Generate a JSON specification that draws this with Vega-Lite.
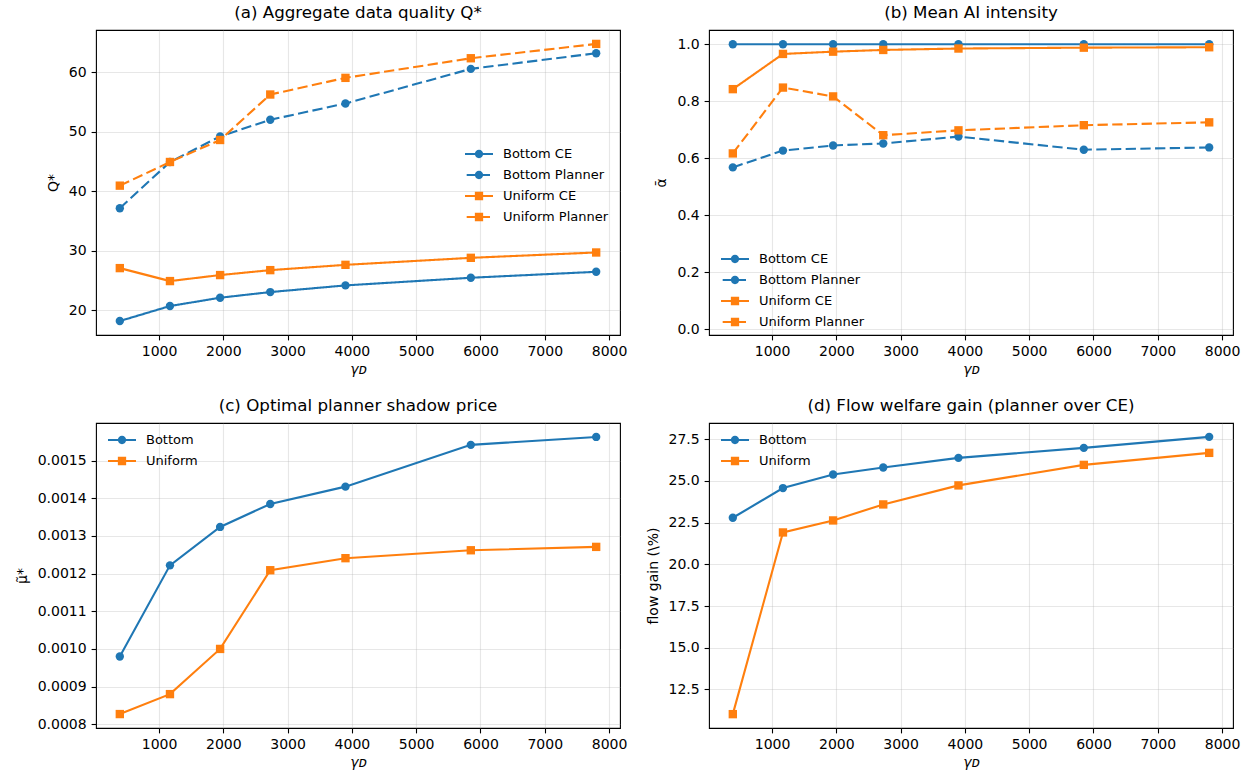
{
  "$schema": "https://vega.github.io/schema/vega-lite/v6.json",
  "padding": {"left": 14, "top": 4, "right": 5, "bottom": 5},
  "background": "white",
  "columns": 2,
  "spacing": {"row": 19, "column": 17},
  "config": {
    "font": "DejaVu Sans",
    "view": {"stroke": "black", "strokeWidth": 1.1},
    "axis": {
      "domain": false, "labelFont": "DejaVu Sans", "labelFontSize": 14, "labelColor": "black",
      "titleFont": "DejaVu Sans", "titleFontSize": 14, "titleFontWeight": "normal", "titleColor": "black",
      "tickColor": "black", "tickSize": 4.9, "tickWidth": 1.1, "labelPadding": 4.9,
      "gridColor": "#b0b0b0", "gridOpacity": 0.3, "gridWidth": 1.1, "labelFlush": false, "labelOverlap": false
    },
    "axisY": {"titlePadding": 8},
    "axisX": {"titlePadding": 4},
    "title": {"font": "DejaVu Sans", "fontSize": 16.7, "fontWeight": "normal", "color": "black", "offset": 8, "frame": "group", "anchor": "middle"},
    "legend": {"labelFont": "DejaVu Sans", "labelFontSize": 13, "labelColor": "black", "padding": 0, "labelOffset": 10, "symbolSize": 784, "rowPadding": -2.9, "symbolStrokeWidth": 0, "symbolOpacity": 1}
  },
  "datasets": {
    "a": [
      {"g": 390, "s": "Bottom CE", "v": 18.15}, {"g": 1170, "s": "Bottom CE", "v": 20.67}, {"g": 1950, "s": "Bottom CE", "v": 22.07}, {"g": 2730, "s": "Bottom CE", "v": 23.02}, {"g": 3900, "s": "Bottom CE", "v": 24.14}, {"g": 5850, "s": "Bottom CE", "v": 25.43}, {"g": 7800, "s": "Bottom CE", "v": 26.43},
      {"g": 390, "s": "Bottom Planner", "v": 37.12}, {"g": 1170, "s": "Bottom Planner", "v": 44.9}, {"g": 1950, "s": "Bottom Planner", "v": 49.2}, {"g": 2730, "s": "Bottom Planner", "v": 52.0}, {"g": 3900, "s": "Bottom Planner", "v": 54.74}, {"g": 5850, "s": "Bottom Planner", "v": 60.56}, {"g": 7800, "s": "Bottom Planner", "v": 63.19},
      {"g": 390, "s": "Uniform CE", "v": 27.05}, {"g": 1170, "s": "Uniform CE", "v": 24.87}, {"g": 1950, "s": "Uniform CE", "v": 25.88}, {"g": 2730, "s": "Uniform CE", "v": 26.71}, {"g": 3900, "s": "Uniform CE", "v": 27.6}, {"g": 5850, "s": "Uniform CE", "v": 28.78}, {"g": 7800, "s": "Uniform CE", "v": 29.68},
      {"g": 390, "s": "Uniform Planner", "v": 40.92}, {"g": 1170, "s": "Uniform Planner", "v": 44.9}, {"g": 1950, "s": "Uniform Planner", "v": 48.6}, {"g": 2730, "s": "Uniform Planner", "v": 56.25}, {"g": 3900, "s": "Uniform Planner", "v": 59.05}, {"g": 5850, "s": "Uniform Planner", "v": 62.35}, {"g": 7800, "s": "Uniform Planner", "v": 64.76}
    ],
    "b": [
      {"g": 390, "s": "Bottom CE", "v": 1.0}, {"g": 1170, "s": "Bottom CE", "v": 1.0}, {"g": 1950, "s": "Bottom CE", "v": 1.0}, {"g": 2730, "s": "Bottom CE", "v": 1.0}, {"g": 3900, "s": "Bottom CE", "v": 1.0}, {"g": 5850, "s": "Bottom CE", "v": 1.0}, {"g": 7800, "s": "Bottom CE", "v": 1.0},
      {"g": 390, "s": "Bottom Planner", "v": 0.568}, {"g": 1170, "s": "Bottom Planner", "v": 0.627}, {"g": 1950, "s": "Bottom Planner", "v": 0.645}, {"g": 2730, "s": "Bottom Planner", "v": 0.652}, {"g": 3900, "s": "Bottom Planner", "v": 0.676}, {"g": 5850, "s": "Bottom Planner", "v": 0.63}, {"g": 7800, "s": "Bottom Planner", "v": 0.638},
      {"g": 390, "s": "Uniform CE", "v": 0.8425}, {"g": 1170, "s": "Uniform CE", "v": 0.966}, {"g": 1950, "s": "Uniform CE", "v": 0.974}, {"g": 2730, "s": "Uniform CE", "v": 0.98}, {"g": 3900, "s": "Uniform CE", "v": 0.985}, {"g": 5850, "s": "Uniform CE", "v": 0.988}, {"g": 7800, "s": "Uniform CE", "v": 0.9895},
      {"g": 390, "s": "Uniform Planner", "v": 0.617}, {"g": 1170, "s": "Uniform Planner", "v": 0.848}, {"g": 1950, "s": "Uniform Planner", "v": 0.817}, {"g": 2730, "s": "Uniform Planner", "v": 0.681}, {"g": 3900, "s": "Uniform Planner", "v": 0.698}, {"g": 5850, "s": "Uniform Planner", "v": 0.716}, {"g": 7800, "s": "Uniform Planner", "v": 0.726}
    ],
    "c": [
      {"g": 390, "s": "Bottom", "v": 0.00098}, {"g": 1170, "s": "Bottom", "v": 0.001222}, {"g": 1950, "s": "Bottom", "v": 0.001324}, {"g": 2730, "s": "Bottom", "v": 0.001385}, {"g": 3900, "s": "Bottom", "v": 0.001431}, {"g": 5850, "s": "Bottom", "v": 0.001542}, {"g": 7800, "s": "Bottom", "v": 0.001563},
      {"g": 390, "s": "Uniform", "v": 0.000827}, {"g": 1170, "s": "Uniform", "v": 0.00088}, {"g": 1950, "s": "Uniform", "v": 0.001}, {"g": 2730, "s": "Uniform", "v": 0.001209}, {"g": 3900, "s": "Uniform", "v": 0.001241}, {"g": 5850, "s": "Uniform", "v": 0.001262}, {"g": 7800, "s": "Uniform", "v": 0.001271}
    ],
    "d": [
      {"g": 390, "s": "Bottom", "v": 22.79}, {"g": 1170, "s": "Bottom", "v": 24.57}, {"g": 1950, "s": "Bottom", "v": 25.385}, {"g": 2730, "s": "Bottom", "v": 25.8}, {"g": 3900, "s": "Bottom", "v": 26.38}, {"g": 5850, "s": "Bottom", "v": 26.98}, {"g": 7800, "s": "Bottom", "v": 27.64},
      {"g": 390, "s": "Uniform", "v": 11.02}, {"g": 1170, "s": "Uniform", "v": 21.91}, {"g": 1950, "s": "Uniform", "v": 22.63}, {"g": 2730, "s": "Uniform", "v": 23.59}, {"g": 3900, "s": "Uniform", "v": 24.73}, {"g": 5850, "s": "Uniform", "v": 25.96}, {"g": 7800, "s": "Uniform", "v": 26.68}
    ]
  },
  "resolve": {
    "scale": {"x": "independent", "y": "independent", "color": "independent", "shape": "independent", "strokeDash": "independent"},
    "legend": {"color": "independent", "shape": "independent", "strokeDash": "independent"}
  },
  "concat": [
    {
      "title": "(a) Aggregate data quality Q*",
      "width": 524, "height": 305,
      "data": {"name": "a"},
      "encoding": {
        "x": {"field": "g", "type": "quantitative", "scale": {"domain": [19.5, 8170.5], "nice": false, "zero": false}, "axis": {"values": [1000, 2000, 3000, 4000, 5000, 6000, 7000, 8000], "format": "d", "title": "γᴅ", "titleFontStyle": "italic"}},
        "y": {"field": "v", "type": "quantitative", "scale": {"domain": [15.8, 67.1], "nice": false, "zero": false}, "axis": {"values": [20, 30, 40, 50, 60], "format": "d", "title": "Q*"}},
        "color": {"field": "s", "type": "nominal", "scale": {"domain": ["Bottom CE", "Bottom Planner", "Uniform CE", "Uniform Planner"], "range": ["#1f77b4", "#1f77b4", "#ff7f0e", "#ff7f0e"]},
          "legend": {"title": null, "orient": "none", "legendX": 369, "legendY": 110}}
      },
      "layer": [
        {"mark": {"type": "line", "strokeWidth": 2.1}, "encoding": {"strokeDash": {"field": "s", "type": "nominal", "scale": {"domain": ["Bottom CE", "Bottom Planner", "Uniform CE", "Uniform Planner"], "range": [[1, 0], [10.3, 4.4], [1, 0], [10.3, 4.4]]}, "legend": null}}},
        {"transform": [{"filter": "indexof(datum.s,'Bottom')>=0"}], "mark": {"type": "point", "shape": "circle", "filled": true, "size": 70, "opacity": 1}},
        {"transform": [{"filter": "indexof(datum.s,'Uniform')>=0"}], "mark": {"type": "point", "shape": "square", "filled": true, "size": 70, "opacity": 1}},
        {"transform": [{"filter": "datum.v > 1e9"}], "mark": {"type": "point", "filled": true, "opacity": 1},
          "encoding": {"shape": {"field": "s", "type": "nominal", "scale": {"domain": ["Bottom CE", "Bottom Planner", "Uniform CE", "Uniform Planner"],
            "range": ["M-1,-0.0714H1V0.0714H-1Z M0.296,0A0.296,0.296 0 1,1 -0.296,0A0.296,0.296 0 1,1 0.296,0Z", "M-0.88,-0.0714H-0.264V0.0714H-0.88Z M0.05,-0.0714H0.786V0.0714H0.05Z M0.296,0A0.296,0.296 0 1,1 -0.296,0A0.296,0.296 0 1,1 0.296,0Z", "M-1,-0.0714H1V0.0714H-1Z M-0.296,-0.296H0.296V0.296H-0.296Z", "M-0.88,-0.0714H-0.264V0.0714H-0.88Z M0.05,-0.0714H0.786V0.0714H0.05Z M-0.296,-0.296H0.296V0.296H-0.296Z"]},
            "legend": {"title": null, "orient": "none", "legendX": 369, "legendY": 110}}}}
      ]
    },
    {
      "title": "(b) Mean AI intensity",
      "width": 524, "height": 305,
      "data": {"name": "b"},
      "encoding": {
        "x": {"field": "g", "type": "quantitative", "scale": {"domain": [19.5, 8170.5], "nice": false, "zero": false}, "axis": {"values": [1000, 2000, 3000, 4000, 5000, 6000, 7000, 8000], "format": "d", "title": "γᴅ", "titleFontStyle": "italic"}},
        "y": {"field": "v", "type": "quantitative", "scale": {"domain": [-0.02, 1.05], "nice": false, "zero": false}, "axis": {"values": [0, 0.2, 0.4, 0.6, 0.8, 1.0], "format": ".1f", "title": "ᾱ"}},
        "color": {"field": "s", "type": "nominal", "scale": {"domain": ["Bottom CE", "Bottom Planner", "Uniform CE", "Uniform Planner"], "range": ["#1f77b4", "#1f77b4", "#ff7f0e", "#ff7f0e"]},
          "legend": {"title": null, "orient": "none", "legendX": 12, "legendY": 215}}
      },
      "layer": [
        {"mark": {"type": "line", "strokeWidth": 2.1}, "encoding": {"strokeDash": {"field": "s", "type": "nominal", "scale": {"domain": ["Bottom CE", "Bottom Planner", "Uniform CE", "Uniform Planner"], "range": [[1, 0], [10.3, 4.4], [1, 0], [10.3, 4.4]]}, "legend": null}}},
        {"transform": [{"filter": "indexof(datum.s,'Bottom')>=0"}], "mark": {"type": "point", "shape": "circle", "filled": true, "size": 70, "opacity": 1}},
        {"transform": [{"filter": "indexof(datum.s,'Uniform')>=0"}], "mark": {"type": "point", "shape": "square", "filled": true, "size": 70, "opacity": 1}},
        {"transform": [{"filter": "datum.v > 1e9"}], "mark": {"type": "point", "filled": true, "opacity": 1},
          "encoding": {"shape": {"field": "s", "type": "nominal", "scale": {"domain": ["Bottom CE", "Bottom Planner", "Uniform CE", "Uniform Planner"],
            "range": ["M-1,-0.0714H1V0.0714H-1Z M0.296,0A0.296,0.296 0 1,1 -0.296,0A0.296,0.296 0 1,1 0.296,0Z", "M-0.88,-0.0714H-0.264V0.0714H-0.88Z M0.05,-0.0714H0.786V0.0714H0.05Z M0.296,0A0.296,0.296 0 1,1 -0.296,0A0.296,0.296 0 1,1 0.296,0Z", "M-1,-0.0714H1V0.0714H-1Z M-0.296,-0.296H0.296V0.296H-0.296Z", "M-0.88,-0.0714H-0.264V0.0714H-0.88Z M0.05,-0.0714H0.786V0.0714H0.05Z M-0.296,-0.296H0.296V0.296H-0.296Z"]},
            "legend": {"title": null, "orient": "none", "legendX": 12, "legendY": 215}}}}
      ]
    },
    {
      "title": "(c) Optimal planner shadow price",
      "width": 524, "height": 305,
      "data": {"name": "c"},
      "encoding": {
        "x": {"field": "g", "type": "quantitative", "scale": {"domain": [19.5, 8170.5], "nice": false, "zero": false}, "axis": {"values": [1000, 2000, 3000, 4000, 5000, 6000, 7000, 8000], "format": "d", "title": "γᴅ", "titleFontStyle": "italic"}},
        "y": {"field": "v", "type": "quantitative", "scale": {"domain": [0.00079, 0.0016], "nice": false, "zero": false}, "axis": {"values": [0.0008, 0.0009, 0.001, 0.0011, 0.0012, 0.0013, 0.0014, 0.0015], "format": ".4f", "title": "μ̃*"}},
        "color": {"field": "s", "type": "nominal", "scale": {"domain": ["Bottom", "Uniform"], "range": ["#1f77b4", "#ff7f0e"]},
          "legend": {"title": null, "orient": "none", "legendX": 12, "legendY": 3}}
      },
      "layer": [
        {"mark": {"type": "line", "strokeWidth": 2.1}},
        {"transform": [{"filter": "indexof(datum.s,'Bottom')>=0"}], "mark": {"type": "point", "shape": "circle", "filled": true, "size": 70, "opacity": 1}},
        {"transform": [{"filter": "indexof(datum.s,'Uniform')>=0"}], "mark": {"type": "point", "shape": "square", "filled": true, "size": 70, "opacity": 1}},
        {"transform": [{"filter": "datum.v > 1e9"}], "mark": {"type": "point", "filled": true, "opacity": 1},
          "encoding": {"shape": {"field": "s", "type": "nominal", "scale": {"domain": ["Bottom", "Uniform"],
            "range": ["M-1,-0.0714H1V0.0714H-1Z M0.296,0A0.296,0.296 0 1,1 -0.296,0A0.296,0.296 0 1,1 0.296,0Z", "M-1,-0.0714H1V0.0714H-1Z M-0.296,-0.296H0.296V0.296H-0.296Z"]},
            "legend": {"title": null, "orient": "none", "legendX": 12, "legendY": 3}}}}
      ]
    },
    {
      "title": "(d) Flow welfare gain (planner over CE)",
      "width": 524, "height": 305,
      "data": {"name": "d"},
      "encoding": {
        "x": {"field": "g", "type": "quantitative", "scale": {"domain": [19.5, 8170.5], "nice": false, "zero": false}, "axis": {"values": [1000, 2000, 3000, 4000, 5000, 6000, 7000, 8000], "format": "d", "title": "γᴅ", "titleFontStyle": "italic"}},
        "y": {"field": "v", "type": "quantitative", "scale": {"domain": [10.19, 28.47], "nice": false, "zero": false}, "axis": {"values": [12.5, 15, 17.5, 20, 22.5, 25, 27.5], "format": ".1f", "title": "flow gain (\\%)"}},
        "color": {"field": "s", "type": "nominal", "scale": {"domain": ["Bottom", "Uniform"], "range": ["#1f77b4", "#ff7f0e"]},
          "legend": {"title": null, "orient": "none", "legendX": 12, "legendY": 3}}
      },
      "layer": [
        {"mark": {"type": "line", "strokeWidth": 2.1}},
        {"transform": [{"filter": "indexof(datum.s,'Bottom')>=0"}], "mark": {"type": "point", "shape": "circle", "filled": true, "size": 70, "opacity": 1}},
        {"transform": [{"filter": "indexof(datum.s,'Uniform')>=0"}], "mark": {"type": "point", "shape": "square", "filled": true, "size": 70, "opacity": 1}},
        {"transform": [{"filter": "datum.v > 1e9"}], "mark": {"type": "point", "filled": true, "opacity": 1},
          "encoding": {"shape": {"field": "s", "type": "nominal", "scale": {"domain": ["Bottom", "Uniform"],
            "range": ["M-1,-0.0714H1V0.0714H-1Z M0.296,0A0.296,0.296 0 1,1 -0.296,0A0.296,0.296 0 1,1 0.296,0Z", "M-1,-0.0714H1V0.0714H-1Z M-0.296,-0.296H0.296V0.296H-0.296Z"]},
            "legend": {"title": null, "orient": "none", "legendX": 12, "legendY": 3}}}}
      ]
    }
  ]
}
